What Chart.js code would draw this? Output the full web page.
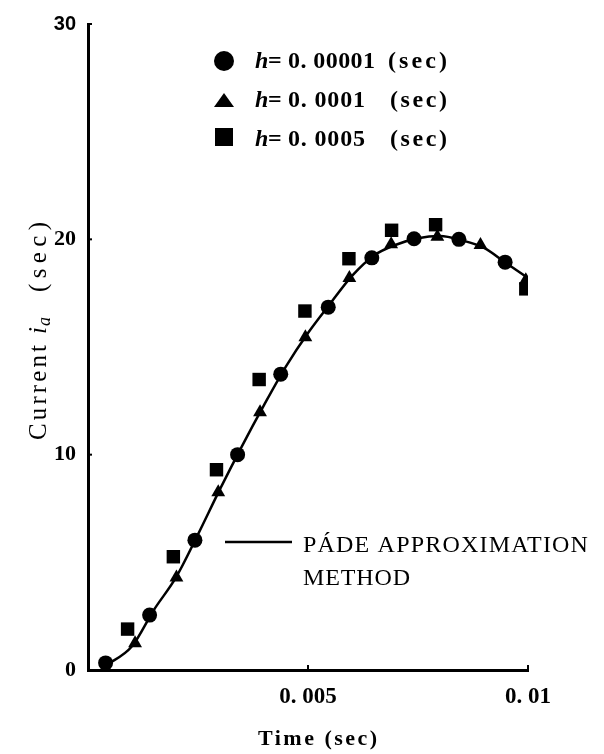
<!DOCTYPE html>
<html>
<head>
<meta charset="utf-8">
<script src="https://cdn.jsdelivr.net/npm/chart.js@4.4.1/dist/chart.umd.min.js"></script>
<style>
  html, body { margin: 0; padding: 0; background: #fff; }
  #wrap { position: relative; width: 604px; height: 754px; }
</style>
</head>
<body>
<div id="wrap"><canvas id="c" width="604" height="754"></canvas></div>
<script>
// ---- Data ----
const xTickValues = [0.005, 0.01];
const xTickLabels = ['0. 005', '0. 01'];
const yTickValues = [0, 10, 20, 30];
const yTickLabels = ['0', '10', '20', '30'];

// h = 0.00001 (sec)  — circles
const circleTime    = [0.0004, 0.0014, 0.00243, 0.0034, 0.00438, 0.00546, 0.00645, 0.00741, 0.00843, 0.00948];
const circleCurrent = [0.33, 2.55, 6.03, 10.0, 13.74, 16.85, 19.14, 20.03, 20.0, 18.94];

// h = 0.0001 (sec)  — triangles
const triTime    = [0.00107, 0.00201, 0.00296, 0.00391, 0.00494, 0.00594, 0.00689, 0.00794, 0.00892, 0.00995];
const triCurrent = [1.24, 4.3, 8.26, 11.97, 15.45, 18.2, 19.77, 20.12, 19.74, 18.1];

// h = 0.0005 (sec)  — squares
const sqTime    = [0.0009, 0.00194, 0.00292, 0.00389, 0.00493, 0.00593, 0.0069, 0.0079, 0.00995];
const sqCurrent = [1.9, 5.26, 9.3, 13.49, 16.67, 19.1, 20.42, 20.68, 17.7];

// Pade approximation method — solid curve
const padeTime    = [0.0004, 0.001, 0.0015, 0.002, 0.0025, 0.003, 0.0035, 0.004, 0.0045, 0.005, 0.0055, 0.006, 0.0065, 0.007, 0.0075, 0.008, 0.0085, 0.009, 0.0095, 0.01];
const padeCurrent = [0.2, 1.1, 2.8, 4.3, 6.3, 8.4, 10.4, 12.3, 14.1, 15.65, 17.0, 18.3, 19.25, 19.75, 20.05, 20.15, 19.95, 19.6, 18.9, 18.2];

const legendLabels = ['0. 00001', '0. 0001', '0. 0005'];
const padeLabel = ['PÁDE APPROXIMATION', 'METHOD'];

// ---- helpers ----
const zip = (xs, ys) => xs.map((x, i) => ({ x: x, y: ys[i] }));
const SERIF = '"Liberation Serif", "DejaVu Serif", serif';

function fitText(ctx, text, x, y, width) {
  ctx.letterSpacing = '0px';
  const w = ctx.measureText(text).width;
  const n = [...text].length;
  const sp = n > 1 ? (width - w) / (n - 1) : 0;
  ctx.letterSpacing = sp.toFixed(2) + 'px';
  ctx.fillText(text, x, y);
  ctx.letterSpacing = '0px';
}

const overlay = {
  id: 'overlay',
  afterDraw(chart) {
    const ctx = chart.ctx;
    const xs = chart.scales.x, ys = chart.scales.y;
    ctx.save();
    ctx.fillStyle = '#000';
    ctx.strokeStyle = '#000';

    // inward ticks
    ctx.lineWidth = 2;
    xTickValues.forEach(v => {
      const px = xs.getPixelForValue(v);
      ctx.beginPath(); ctx.moveTo(px, ys.bottom); ctx.lineTo(px, ys.bottom - 5); ctx.stroke();
    });
    yTickValues.slice(1).forEach(v => {
      const py = ys.getPixelForValue(v);
      ctx.beginPath(); ctx.moveTo(xs.left, py); ctx.lineTo(xs.left + 4, py); ctx.stroke();
    });

    // legend markers
    ctx.beginPath(); ctx.arc(224, 61, 10, 0, Math.PI * 2); ctx.fill();
    ctx.beginPath(); ctx.moveTo(224, 93); ctx.lineTo(234, 107); ctx.lineTo(214, 107); ctx.closePath(); ctx.fill();
    ctx.fillRect(215, 128, 18, 18);

    // legend text
    ctx.textBaseline = 'alphabetic';
    ctx.textAlign = 'left';
    const base = [68, 107, 146];
    const numW = [87, 77, 77];
    legendLabels.forEach((lab, i) => {
      ctx.font = 'italic bold 24px ' + SERIF;
      ctx.fillText('h', 255, base[i]);
      ctx.font = 'bold 24px ' + SERIF;
      ctx.fillText('=', 268, base[i]);
      fitText(ctx, lab, 288, base[i], numW[i]);
      ctx.font = 'bold 24px ' + SERIF;
      fitText(ctx, '(sec)', i === 0 ? 388 : 390, base[i], i === 0 ? 59 : 57);
    });

    // Pade legend
    ctx.lineWidth = 2.5;
    ctx.beginPath(); ctx.moveTo(225, 542); ctx.lineTo(292, 542); ctx.stroke();
    ctx.font = '24px ' + SERIF;
    fitText(ctx, padeLabel[0], 303, 552, 285);
    fitText(ctx, padeLabel[1], 303, 585, 107);

    // x title
    ctx.font = 'bold 22px ' + SERIF;
    fitText(ctx, 'Time (sec)', 258, 745, 119);

    // y title (rotated)
    ctx.save();
    ctx.translate(46, 440);
    ctx.rotate(-Math.PI / 2);
    ctx.font = '25px ' + SERIF;
    fitText(ctx, 'Current', 0, 0, 95);
    ctx.font = 'italic 25px ' + SERIF;
    ctx.fillText('i', 106, 0);
    ctx.font = 'italic 18px ' + SERIF;
    ctx.fillText('a', 114, 4);
    ctx.font = '25px ' + SERIF;
    fitText(ctx, '(sec)', 148, 0, 70);
    ctx.restore();

    ctx.restore();
  }
};

new Chart(document.getElementById('c'), {
  type: 'scatter',
  data: {
    datasets: [
      {
        label: 'PÁDE APPROXIMATION METHOD',
        type: 'line',
        data: zip(padeTime, padeCurrent),
        borderColor: '#000',
        borderWidth: 2.5,
        pointRadius: 0,
        fill: false,
        cubicInterpolationMode: 'monotone',
        order: 2
      },
      {
        label: 'h=0.00001 (sec)',
        data: zip(circleTime, circleCurrent),
        pointStyle: 'circle',
        pointRadius: 7.5,
        backgroundColor: '#000',
        borderColor: '#000',
        borderWidth: 0,
        order: 1
      },
      {
        label: 'h=0.0001 (sec)',
        data: zip(triTime, triCurrent),
        pointStyle: 'triangle',
        pointRadius: 8,
        backgroundColor: '#000',
        borderColor: '#000',
        borderWidth: 0,
        order: 1
      },
      {
        label: 'h=0.0005 (sec)',
        data: zip(sqTime, sqCurrent),
        pointStyle: 'rect',
        pointRadius: 9.5,
        backgroundColor: '#000',
        borderColor: '#000',
        borderWidth: 0,
        order: 1
      }
    ]
  },
  options: {
    responsive: false,
    animation: false,
    devicePixelRatio: 1,
    layout: { padding: { top: 14, right: 76, bottom: 0, left: 0 } },
    plugins: { legend: { display: false }, tooltip: { enabled: false } },
    scales: {
      x: {
        type: 'linear',
        min: 0, max: 0.01,
        afterBuildTicks: s => { s.ticks = xTickValues.map(v => ({ value: v })); },
        afterFit: s => { s.height = 84; },
        ticks: {
          callback: (v, i) => xTickLabels[i],
          color: '#000',
          font: { family: SERIF, size: 23, weight: 'bold' },
          padding: 13,
          maxRotation: 0,
          autoSkip: false
        },
        grid: { display: true, drawOnChartArea: false, drawTicks: false },
        border: { display: true, color: '#000', width: 3 }
      },
      y: {
        type: 'linear',
        min: 0, max: 30,
        afterBuildTicks: s => { s.ticks = yTickValues.map(v => ({ value: v })); },
        afterFit: s => { s.width = 88; },
        ticks: {
          callback: (v, i) => yTickLabels[i],
          color: '#000',
          font: c => (c.tick && c.tick.value === 30)
            ? { family: '"Liberation Sans Narrow", "Liberation Sans", sans-serif', size: 20, weight: 'bold' }
            : { family: SERIF, size: 22, weight: 'bold' },
          padding: 12,
          autoSkip: false
        },
        grid: { display: true, drawOnChartArea: false, drawTicks: false },
        border: { display: true, color: '#000', width: 3 }
      }
    }
  },
  plugins: [overlay]
});
</script>
</body>
</html>
